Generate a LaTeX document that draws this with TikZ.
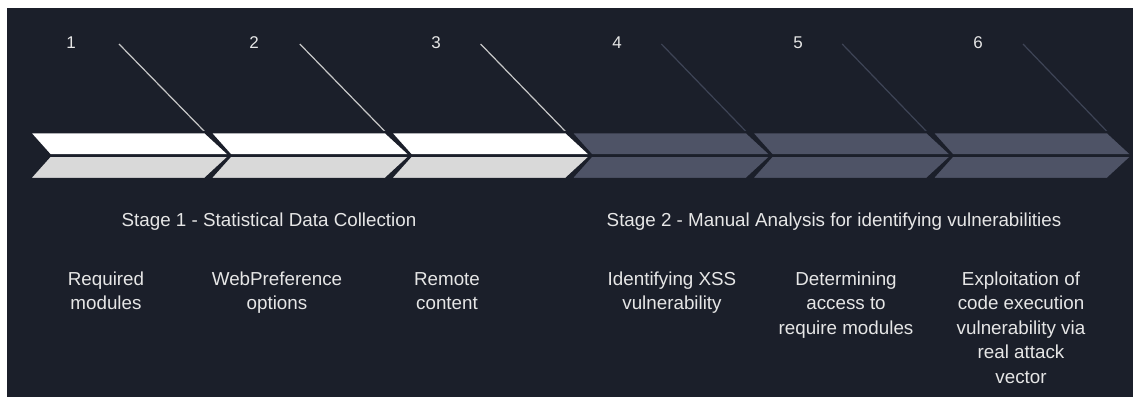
\documentclass[tikz,border=0pt]{standalone}
\usepackage{fontspec}
\setmainfont{Liberation Sans}
\definecolor{bg}{HTML}{1B1F2A}
\definecolor{chevtopA}{HTML}{FFFFFF}
\definecolor{chevbotA}{HTML}{D9D9D9}
\definecolor{chevB}{HTML}{4E5366}
\definecolor{leadA}{HTML}{C8C8C8}
\definecolor{leadB}{HTML}{3E4456}
\definecolor{txt}{HTML}{E6E6E6}
\tikzset{
  chev/.style={draw=bg, line width=2.5pt, line join=miter},
  lead/.style={line width=1.2pt},
  num/.style={text=txt, font=\fontsize{17}{20}\selectfont, anchor=base, inner sep=0pt},
  stage/.style={text=txt, font=\fontsize{18.8}{24.5}\selectfont, anchor=base, inner sep=0pt},
  item/.style={text=txt, font=\fontsize{18.8}{24.5}\selectfont, align=center, anchor=base, inner sep=0pt}
}
\begin{document}
\begin{tikzpicture}[x=1pt,y=-1pt]
  % page and dark panel
  \fill[white] (0,0) rectangle (1133,397);
  \fill[bg] (7,8) rectangle (1133,397);
  \useasboundingbox (0,0) rectangle (1133,397);

  % step numbers
  \foreach \i/\nx in {1/71, 2/254, 3/436, 4/617, 5/798, 6/978}{
    \node[num] (n\i) at (\nx,48) {\i};
  }

  % leader lines and chevrons
  \foreach \i in {1,...,6}{
    \pgfmathsetmacro\xo{29+180.5*(\i-1)}
    \ifnum\i<4
      \def\tc{chevtopA}\def\bc{chevbotA}\def\lc{leadA}
    \else
      \def\tc{chevB}\def\bc{chevB}\def\lc{leadB}
    \fi
    \coordinate (s\i) at ({119+180.8*(\i-1)},44);
    \coordinate (c\i) at (\xo+176,132);
    \draw[lead, draw=\lc] (s\i) -- (c\i);
    \filldraw[chev, fill=\tc] (\xo,132) -- (c\i) -- (\xo+201.5,155.5) -- (\xo+21,155.5) -- cycle;
    \filldraw[chev, fill=\bc] (\xo+21,155.5) -- (\xo+201.5,155.5) -- (\xo+176,179) -- (\xo,179) -- cycle;
  }

  % stage headings
  \node[stage] (st1) at (269,226) {Stage 1 - Statistical Data Collection};
  \node[stage] (st2) at (834,226) {Stage 2 - Manual Analysis for identifying vulnerabilities};

  % step descriptions (anchored at the baseline of the last line)
  \node[item] (t1) at (106,309.5) {Required\\modules};
  \node[item] (t2) at (277,309.5) {WebPreference\\options};
  \node[item] (t3) at (447,309.5) {Remote\\content};
  \node[item] (t4) at (672,309.5) {Identifying XSS\\vulnerability};
  \node[item] (t5) at (846,334) {Determining\\access to\\require modules};
  \node[item] (t6) at (1021,383) {Exploitation of\\code execution\\vulnerability via\\real attack\\vector};
\end{tikzpicture}
\end{document}
